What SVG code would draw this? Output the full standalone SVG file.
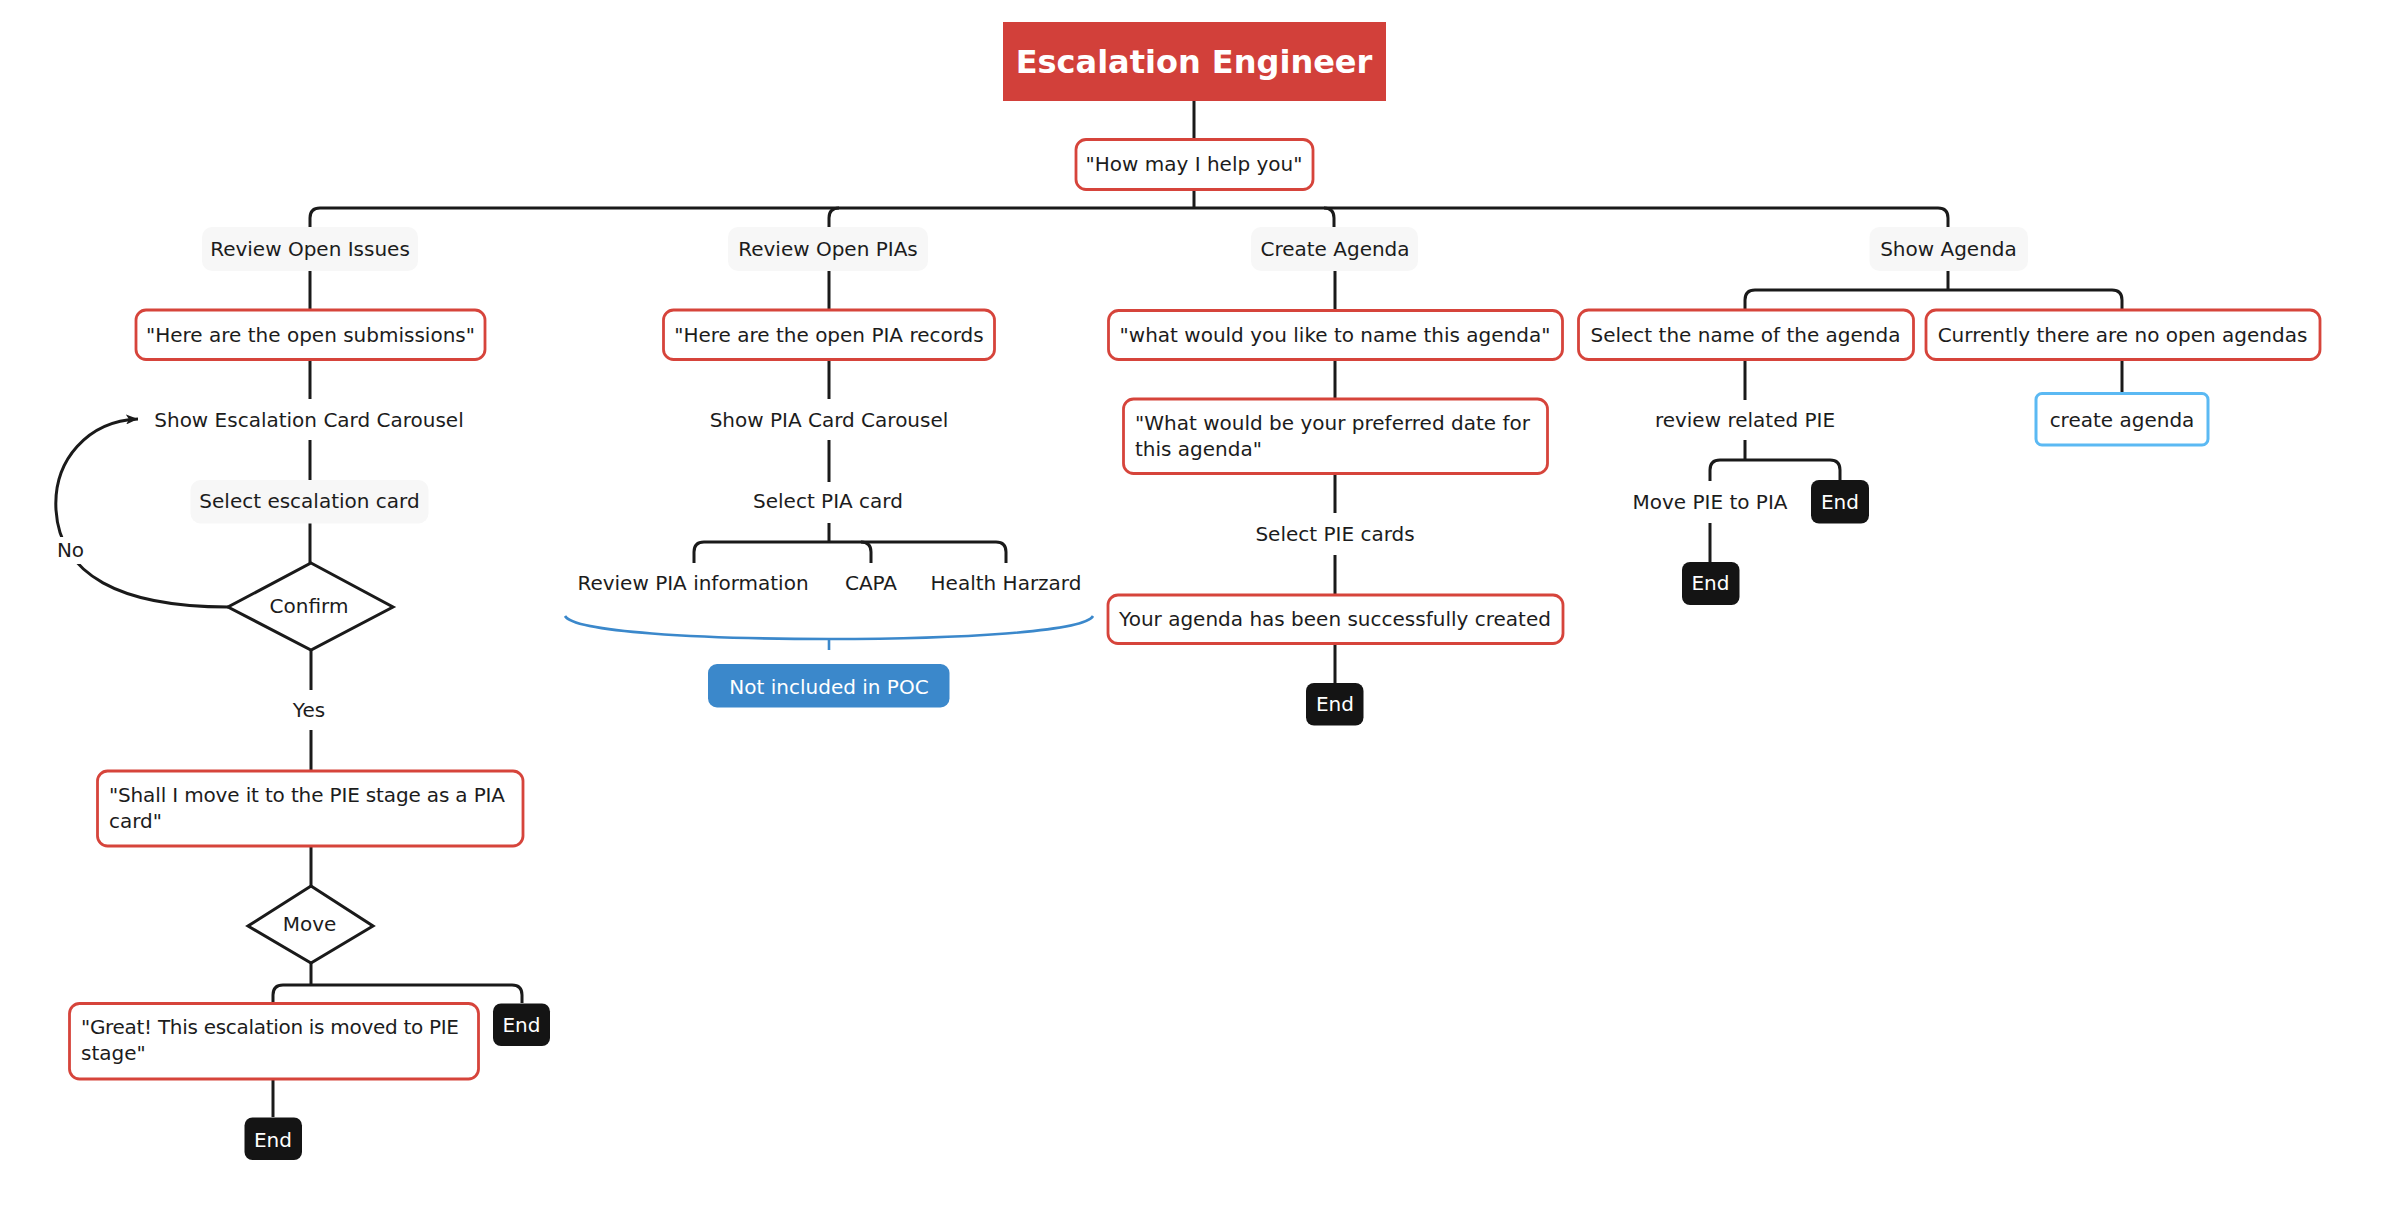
<svg xmlns="http://www.w3.org/2000/svg" width="2398" height="1218" viewBox="0 0 2398 1218">
<defs>
<style>
text{font-family:"DejaVu Sans","Liberation Sans",sans-serif;font-size:20px;fill:#1c1c1c}
.c{text-anchor:middle}
.w{fill:#ffffff}
.title{font-size:32px;font-weight:bold;fill:#ffffff}
.red{fill:#ffffff;stroke:#d6443b;stroke-width:2.8}
.gray{fill:#f7f7f7}
.end{fill:#141414}
.blue{fill:#ffffff;stroke:#5bb9f3;stroke-width:3}
.poc{fill:#3b88cb}
.ln{fill:none;stroke:#1a1a1a;stroke-width:3;stroke-linecap:butt}
.dia{fill:#ffffff;stroke:#1a1a1a;stroke-width:3;stroke-linejoin:miter}
.brace{fill:none;stroke:#3b88cb;stroke-width:2.6}
</style>
<marker id="arr" viewBox="0 0 12 10" refX="12" refY="5" markerWidth="12" markerHeight="10" markerUnits="userSpaceOnUse" orient="auto">
<path d="M0,0 L12,5 L0,10 L3,5 Z" fill="#1a1a1a"/>
</marker>
</defs>
<rect x="0" y="0" width="2398" height="1218" fill="#ffffff"/>

<g id="connectors">
<path class="ln" d="M1194,101 V140 M1194,189 V208"/>
<path class="ln" d="M310,227 V218 Q310,208 320,208 H1938 Q1948,208 1948,218 V227"/>
<path class="ln" d="M839,208 Q829,208 829,218 V227"/>
<path class="ln" d="M1324,208 Q1334,208 1334,218 V227"/>
<path class="ln" d="M310,271 V310 M310,359 V399 M310,440 V480 M310,523 V563"/>
<path class="ln" d="M311,650 V690 M311,730 V771 M311,846 V886 M311,963 V985"/>
<path class="ln" d="M273,1003 V995 Q273,985 283,985 H512 Q522,985 522,995 V1003"/>
<path class="ln" d="M273,1079 V1117"/>
<path class="ln" d="M228,607 C120,607 60,575 56,510 C53,460 88,421 138,419" marker-end="url(#arr)"/>
<path class="ln" d="M829,271 V310 M829,359 V399 M829,440 V482 M829,523 V542"/>
<path class="ln" d="M694,563 V552 Q694,542 704,542 H996 Q1006,542 1006,552 V563"/>
<path class="ln" d="M861,542 Q871,542 871,552 V563"/>
<path class="brace" d="M565,616 C574,632 700,639 829,639 C958,639 1084,632 1093,616 M829,639 V650"/>
<path class="ln" d="M1335,271 V311 M1335,359 V399 M1335,473 V513 M1335,555 V595 M1335,643 V683"/>
<path class="ln" d="M1948,271 V290"/>
<path class="ln" d="M1745,310 V300 Q1745,290 1755,290 H2112 Q2122,290 2122,300 V310"/>
<path class="ln" d="M1745,359 V400 M1745,440 V460"/>
<path class="ln" d="M1710,481 V470 Q1710,460 1720,460 H1830 Q1840,460 1840,470 V480"/>
<path class="ln" d="M1710,523 V562"/>
<path class="ln" d="M2122,359 V394"/>
</g>

<g id="title">
<rect x="1003" y="22" width="383" height="79" fill="#d2403a"/>
<text class="title c" x="1194" y="73">Escalation Engineer</text>
</g>
<g id="how-may-i-help">
<rect class="red" x="1076" y="139.5" width="237" height="50" rx="10"/>
<text class="c" x="1194" y="171">"How may I help you"</text>
</g>

<g id="review-open-issues">
<rect class="gray" x="202" y="227" width="216" height="44" rx="10"/>
<text class="c" x="310" y="256">Review Open Issues</text>
</g>
<g id="open-submissions">
<rect class="red" x="136" y="310" width="349" height="49.5" rx="10"/>
<text class="c" x="310.5" y="342">"Here are the open submissions"</text>
</g>
<g id="show-escalation-carousel">
<text class="c" x="309" y="427">Show Escalation Card Carousel</text>
</g>
<g id="select-escalation-card">
<rect class="gray" x="190.5" y="480" width="238" height="43.5" rx="10"/>
<text class="c" x="309.5" y="508">Select escalation card</text>
</g>
<g id="confirm">
<polygon class="dia" points="311,563 393,607 311,650 228,607"/>
<text class="c" x="309" y="613">Confirm</text>
</g>
<g id="no-label">
<rect x="54" y="537" width="33" height="27" fill="#ffffff"/>
<text class="c" x="70.5" y="557">No</text>
</g>
<g id="yes-label">
<text class="c" x="309" y="717">Yes</text>
</g>
<g id="shall-i-move">
<rect class="red" x="97.5" y="771" width="425.5" height="75" rx="10"/>
<text x="109" y="802" textLength="396">"Shall I move it to the PIE stage as a PIA</text>
<text x="109" y="827.5">card"</text>
</g>
<g id="move">
<polygon class="dia" points="311,886 373,926 311,963 248,926"/>
<text class="c" x="309.5" y="931">Move</text>
</g>
<g id="great-moved">
<rect class="red" x="69.5" y="1003.5" width="409" height="75.5" rx="10"/>
<text x="81" y="1034" textLength="378">"Great! This escalation is moved to PIE</text>
<text x="81" y="1060">stage"</text>
</g>
<g id="end-move-right">
<rect class="end" x="493" y="1003.5" width="57" height="42.5" rx="8"/>
<text class="c w" x="521.5" y="1032">End</text>
</g>
<g id="end-great">
<rect class="end" x="244.5" y="1117.5" width="57.5" height="42.5" rx="8"/>
<text class="c w" x="273" y="1147">End</text>
</g>

<g id="review-open-pias">
<rect class="gray" x="728" y="227" width="200" height="44" rx="10"/>
<text class="c" x="828" y="256">Review Open PIAs</text>
</g>
<g id="open-pia-records">
<rect class="red" x="663.5" y="310" width="331" height="49.5" rx="10"/>
<text class="c" x="829" y="342">"Here are the open PIA records</text>
</g>
<g id="show-pia-carousel">
<text class="c" x="829" y="427">Show PIA Card Carousel</text>
</g>
<g id="select-pia-card">
<text class="c" x="828" y="508">Select PIA card</text>
</g>
<g id="review-pia-information">
<text class="c" x="693" y="590">Review PIA information</text>
</g>
<g id="capa">
<text class="c" x="871" y="590">CAPA</text>
</g>
<g id="health-harzard">
<text class="c" x="1006" y="590">Health Harzard</text>
</g>
<g id="not-included">
<rect class="poc" x="708" y="664" width="241.5" height="43.5" rx="9"/>
<text class="c w" x="829" y="694">Not included in POC</text>
</g>

<g id="create-agenda-topic">
<rect class="gray" x="1251" y="227" width="167" height="44" rx="10"/>
<text class="c" x="1335" y="256">Create Agenda</text>
</g>
<g id="name-agenda">
<rect class="red" x="1108.5" y="310.5" width="454" height="49" rx="10"/>
<text class="c" x="1335" y="342">"what would you like to name this agenda"</text>
</g>
<g id="preferred-date">
<rect class="red" x="1123.5" y="399" width="424" height="74.5" rx="10"/>
<text x="1135" y="429.5" textLength="395">"What would be your preferred date for</text>
<text x="1135" y="455.5">this agenda"</text>
</g>
<g id="select-pie-cards">
<text class="c" x="1335" y="541">Select PIE cards</text>
</g>
<g id="agenda-created">
<rect class="red" x="1108" y="595" width="455" height="48.5" rx="10"/>
<text class="c" x="1335" y="626">Your agenda has been successfully created</text>
</g>
<g id="end-agenda">
<rect class="end" x="1306" y="683" width="57.5" height="42.5" rx="8"/>
<text class="c w" x="1335" y="711">End</text>
</g>

<g id="show-agenda-topic">
<rect class="gray" x="1869.5" y="227" width="158.5" height="44" rx="10"/>
<text class="c" x="1948.5" y="256">Show Agenda</text>
</g>
<g id="select-agenda-name">
<rect class="red" x="1578.5" y="310" width="335" height="49.5" rx="10"/>
<text class="c" x="1745.5" y="342">Select the name of the agenda</text>
</g>
<g id="no-open-agendas">
<rect class="red" x="1926" y="310" width="394" height="49.5" rx="10"/>
<text class="c" x="2122.5" y="342">Currently there are no open agendas</text>
</g>
<g id="review-related-pie">
<text class="c" x="1745" y="427">review related PIE</text>
</g>
<g id="move-pie-to-pia">
<text class="c" x="1710" y="509">Move PIE to PIA</text>
</g>
<g id="end-pie-right">
<rect class="end" x="1811" y="480" width="58" height="43.5" rx="8"/>
<text class="c w" x="1840" y="509">End</text>
</g>
<g id="end-pie-bottom">
<rect class="end" x="1682" y="562" width="57.5" height="43" rx="8"/>
<text class="c w" x="1710.5" y="590">End</text>
</g>
<g id="create-agenda-action">
<rect class="blue" x="2036" y="393.5" width="172" height="51.5" rx="6"/>
<text class="c" x="2122" y="427">create agenda</text>
</g>
</svg>
